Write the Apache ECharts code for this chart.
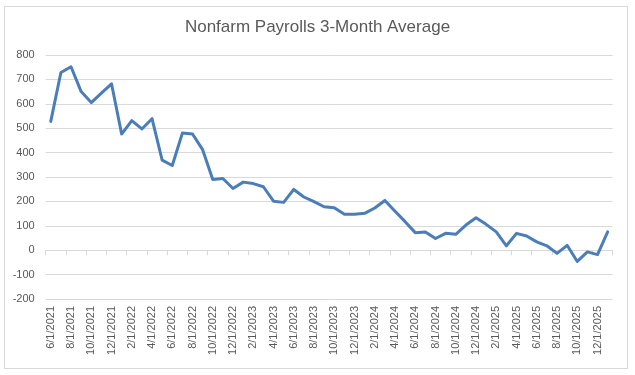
<!DOCTYPE html>
<html>
<head>
<meta charset="utf-8">
<script src="https://cdn.jsdelivr.net/npm/echarts@6/dist/echarts.min.js"></script>
<style>
html,body{margin:0;padding:0;background:#fff;}
#c{width:635px;height:375px;}
</style>
</head>
<body>
<div id="c"></div>
<script>
const chartTitle = 'Nonfarm Payrolls 3-Month Average';
const months = [
 '6/1/2021','7/1/2021','8/1/2021','9/1/2021','10/1/2021','11/1/2021','12/1/2021',
 '1/1/2022','2/1/2022','3/1/2022','4/1/2022','5/1/2022','6/1/2022','7/1/2022','8/1/2022','9/1/2022','10/1/2022','11/1/2022','12/1/2022',
 '1/1/2023','2/1/2023','3/1/2023','4/1/2023','5/1/2023','6/1/2023','7/1/2023','8/1/2023','9/1/2023','10/1/2023','11/1/2023','12/1/2023',
 '1/1/2024','2/1/2024','3/1/2024','4/1/2024','5/1/2024','6/1/2024','7/1/2024','8/1/2024','9/1/2024','10/1/2024','11/1/2024','12/1/2024',
 '1/1/2025','2/1/2025','3/1/2025','4/1/2025','5/1/2025','6/1/2025','7/1/2025','8/1/2025','9/1/2025','10/1/2025','11/1/2025','12/1/2025',
 '1/1/2026'
];
const payrollAvg = [
 528, 728, 752, 650, 605, 644, 682,
 476, 531, 497, 539, 369, 347, 480, 476, 412, 290, 294, 253,
 279, 273, 260, 201, 196, 249, 218, 199, 178, 174, 147, 147,
 151, 173, 204, 160, 117, 72, 75, 48, 69, 65, 103, 133,
 106, 75, 18, 69, 58, 34, 18, -13, 20, -46, -7, -18,
 75
];
const yMin = -200, yMax = 800, yStep = 100;

const chart = echarts.init(document.getElementById('c'));
const txt = '#595959';
const grid = '#d9d9d9';
chart.setOption({
  animation: false,
  backgroundColor: '#fff',
  title: {
    text: chartTitle, left: 'center', top: 14,
    textStyle: { fontFamily: 'Liberation Sans', fontSize: 17, fontWeight: 'normal', color: txt }
  },
  graphic: [{
    type: 'rect', shape: { x: 4.5, y: 6.5, width: 623, height: 362 },
    style: { fill: 'none', stroke: grid, lineWidth: 1 }, silent: true, z: -1
  }],
  grid: { left: 45.7, right: 22.3, top: 55, bottom: 76, containLabel: false },
  xAxis: [{
    type: 'category', data: months, boundaryGap: true, position: 'bottom',
    axisLine: { show: false, onZero: false },
    axisTick: { show: false },
    axisLabel: { interval: 1, rotate: 90, margin: 7, color: txt, fontFamily: 'Liberation Sans', fontSize: 11 },
    splitLine: { show: false }
  }, {
    type: 'category', data: months, boundaryGap: true, position: 'bottom',
    axisLine: { show: true, onZero: true, lineStyle: { color: grid, width: 1 } },
    axisTick: { show: true, interval: 1, length: 5, inside: false, lineStyle: { color: grid } },
    axisLabel: { show: false },
    splitLine: { show: false }
  }],
  yAxis: {
    type: 'value', min: yMin, max: yMax, interval: yStep,
    axisLine: { show: false }, axisTick: { show: false },
    axisLabel: { margin: 11, color: txt, fontFamily: 'Liberation Sans', fontSize: 11 },
    splitLine: { lineStyle: { color: grid, width: 1 } }
  },
  series: [{
    type: 'line', data: payrollAvg, xAxisIndex: 0, showSymbol: false, symbol: 'none',
    lineStyle: { color: '#4a7ebb', width: 3, join: 'round', cap: 'round' },
    itemStyle: { color: '#4a7ebb' }
  }]
});
</script>
</body>
</html>
